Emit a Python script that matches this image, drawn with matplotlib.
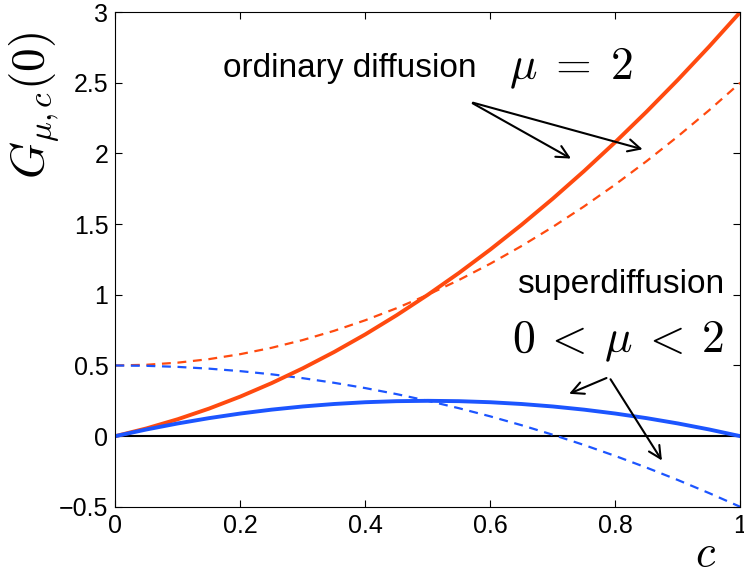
import matplotlib
matplotlib.use("Agg")
import matplotlib.pyplot as plt

plt.rcParams['font.family'] = ['Liberation Sans', 'DejaVu Sans']
plt.rcParams['mathtext.fontset'] = 'cm'
plt.rcParams['axes.unicode_minus'] = True

# values, c = 0 ... 1 in steps of 0.05
c = [0.0, 0.05, 0.1, 0.15, 0.2, 0.25, 0.3, 0.35, 0.4, 0.45, 0.5,
     0.55, 0.6, 0.65, 0.7, 0.75, 0.8, 0.85, 0.9, 0.95, 1.0]
ordinary_solid = [0.0, 0.055, 0.12, 0.195, 0.28, 0.375, 0.48, 0.595, 0.72, 0.855, 1.0,
                  1.155, 1.32, 1.495, 1.68, 1.875, 2.08, 2.295, 2.52, 2.755, 3.0]
ordinary_dash = [0.5, 0.505, 0.52, 0.545, 0.58, 0.625, 0.68, 0.745, 0.82, 0.905, 1.0,
                 1.105, 1.22, 1.345, 1.48, 1.625, 1.78, 1.945, 2.12, 2.305, 2.5]
super_solid = [0.0, 0.0475, 0.09, 0.1275, 0.16, 0.1875, 0.21, 0.2275, 0.24, 0.2475, 0.25,
               0.2475, 0.24, 0.2275, 0.21, 0.1875, 0.16, 0.1275, 0.09, 0.0475, 0.0]
super_dash = [0.5, 0.4975, 0.49, 0.4775, 0.46, 0.4375, 0.41, 0.3775, 0.34, 0.2975, 0.25,
              0.1975, 0.14, 0.0775, 0.01, -0.0625, -0.14, -0.2225, -0.31, -0.4025, -0.5]

xticks = [0, 0.2, 0.4, 0.6, 0.8, 1]
yticks = [-0.5, 0, 0.5, 1, 1.5, 2, 2.5, 3]
ytick_labels = ['\u22120.5', '0', '0.5', '1', '1.5', '2', '2.5', '3']

red = '#ff4a0f'
blue = '#1c55ff'

fig = plt.figure(figsize=(7.44, 5.74), dpi=100)
ax = fig.add_axes([0.155, 0.117, 0.840, 0.862])

ax.axhline(0, color='black', lw=1.5, zorder=1)
ax.plot(c, ordinary_dash, '--', color=red, lw=1.6, dashes=(4, 3))
ax.plot(c, super_dash, '--', color=blue, lw=1.6, dashes=(4, 3))
ax.plot(c, ordinary_solid, '-', color=red, lw=2.8)
ax.plot(c, super_solid, '-', color=blue, lw=2.8)

ax.set_xlim(0, 1)
ax.set_ylim(-0.5, 3)
ax.set_xticks(xticks)
ax.set_xticklabels([f'{v:g}' for v in xticks])
ax.set_yticks(yticks)
ax.set_yticklabels(ytick_labels)
ax.tick_params(direction='in', top=True, right=True, labelsize=18, length=5, pad=5)

ax.text(0.944, -0.84, r'$c$', fontsize=32, ha='center', va='center')
fig.text(0.047, 0.817, r'$G_{\mu,c}(0)$', fontsize=34, rotation=90, ha='center', va='center')

ax.text(0.172, 2.60, 'ordinary diffusion', fontsize=24, va='center')
ax.text(0.630, 2.60, r'$\mu\;=\;2$', fontsize=33, va='center')
ax.text(0.975, 1.07, 'superdiffusion', fontsize=24, va='center', ha='right')
ax.text(0.975, 0.67, r'$0\:<\:\mu\:<\:2$', fontsize=33, va='center', ha='right')

arr = dict(arrowstyle='->', color='black', lw=1.5, mutation_scale=22)
ax.annotate('', xy=(0.733, 1.954), xytext=(0.568, 2.364), arrowprops=arr)
ax.annotate('', xy=(0.848, 2.024), xytext=(0.568, 2.364), arrowprops=arr)
ax.annotate('', xy=(0.722, 0.292), xytext=(0.790, 0.419), arrowprops=arr)
ax.annotate('', xy=(0.877, -0.189), xytext=(0.790, 0.419), arrowprops=arr)

fig.savefig('out.png', dpi=100)
